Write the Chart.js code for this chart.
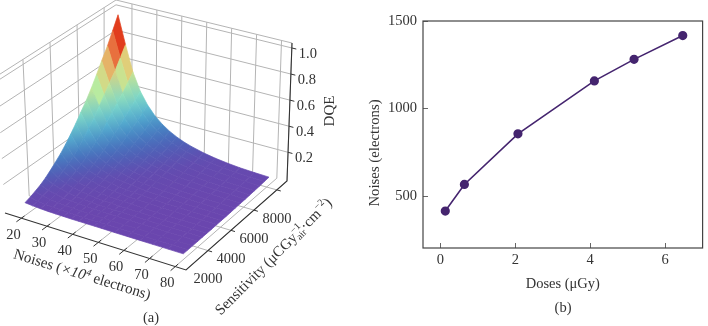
<!DOCTYPE html>
<html>
<head>
<meta charset="utf-8">
<style>
	html, body { margin: 0; padding: 0; background: #fff; width: 708px; height: 326px; overflow: hidden; }
	canvas { position: absolute; top: 0; }
	#surface_chart { left: 0; }
	#noise_chart { left: 354px; }
</style>
<script src="https://cdn.jsdelivr.net/npm/chart.js@4/dist/chart.umd.js"></script>
</head>
<body>
<canvas id="surface_chart" width="354" height="326"></canvas>
<canvas id="noise_chart" width="354" height="326"></canvas>
<script>
// panel (a): surface
const noises = [17, 20, 23, 26, 29, 32, 35, 38, 41, 44, 47, 52, 57, 62, 67, 73, 79];
const sensitivities = [1000, 1400, 1800, 2250, 2650, 3050, 3450, 3900, 4300, 4700, 5100, 5500, 5950, 6350, 6750, 7150, 7600, 8000, 8400];
// one row per sensitivity, one column per noise
const dqe = [
	[.017, .011, .007, .004, .003, .002, .001, .001, .001, .001, .001, .000, .000, .000, .000, .000, .000],
	[.030, .018, .012, .008, .006, .004, .003, .002, .001, .001, .001, .001, .000, .000, .000, .000, .000],
	[.047, .030, .019, .014, .009, .007, .005, .003, .003, .002, .002, .001, .001, .001, .000, .000, .000],
	[.068, .044, .030, .020, .014, .010, .007, .006, .004, .003, .003, .002, .001, .001, .001, .001, .000],
	[.093, .062, .042, .030, .021, .014, .011, .008, .006, .005, .004, .003, .002, .001, .001, .001, .001],
	[.124, .084, .057, .041, .030, .022, .016, .012, .009, .007, .006, .004, .003, .002, .001, .001, .001],
	[.158, .108, .075, .054, .040, .030, .022, .016, .014, .011, .009, .006, .004, .003, .002, .002, .001],
	[.198, .135, .095, .069, .052, .038, .030, .023, .017, .014, .011, .009, .006, .004, .003, .002, .002],
	[.242, .166, .118, .086, .065, .049, .038, .030, .024, .019, .015, .011, .007, .006, .004, .003, .003],
	[.291, .200, .144, .106, .080, .061, .046, .037, .030, .024, .019, .014, .010, .007, .006, .004, .003],
	[.344, .245, .178, .132, .100, .076, .060, .047, .037, .030, .024, .017, .013, .009, .006, .006, .004],
	[.404, .295, .213, .158, .120, .093, .072, .057, .045, .037, .030, .021, .015, .011, .009, .007, .006],
	[.469, .345, .250, .187, .143, .111, .087, .070, .056, .045, .037, .026, .019, .014, .011, .009, .007],
	[.537, .410, .300, .225, .170, .133, .105, .084, .066, .054, .044, .031, .024, .017, .014, .011, .008],
	[.613, .470, .345, .258, .198, .155, .120, .097, .078, .063, .052, .036, .028, .021, .017, .014, .010],
	[.694, .535, .390, .294, .225, .177, .140, .112, .090, .073, .060, .044, .033, .025, .019, .014, .012],
	[.781, .600, .440, .333, .255, .200, .158, .128, .103, .085, .070, .050, .038, .030, .023, .018, .014],
	[.874, .675, .495, .372, .287, .225, .180, .145, .118, .097, .080, .058, .044, .034, .026, .021, .017],
	[.971, .750, .550, .415, .322, .253, .203, .164, .134, .110, .092, .068, .051, .039, .030, .024, .020]
];
const noiseTicks = [20, 30, 40, 50, 60, 70, 80];
const sensitivityTicks = [2000, 4000, 6000, 8000];
const dqeTicks = [0.2, 0.4, 0.6, 0.8, 1.0];

// panel (b)
const doses = [0.13, 0.64, 2.07, 4.11, 5.17, 6.47];
const doseNoises = [415, 567, 856, 1158, 1281, 1417];
const doseTicks = [0, 2, 4, 6];
const doseNoiseTicks = [500, 1000, 1500];

const FONT = '"Liberation Serif", "Times New Roman", serif';
const GRID = "#b4b4b4";
const INK = "#333333";
const NOISE_RANGE = [13.6, 84.2];
const SENS_RANGE = [82, 8880];
const DQE_RANGE = [-0.02, 1.038];
// box corners of the 3d axes on the canvas: [floor, top], order u0v0, u1v0, u0v1, u1v1
const BOX = [
	[[5, 213], [-3, 76]],
	[[186, 270], [187, 122]],
	[[116, 134], [116, 0]],
	[[287, 181], [292, 43]]
];
const COLOR_STOPS = [
	[0, [106, 70, 174]],
	[0.05, [98, 76, 176]],
	[0.12, [76, 100, 184]],
	[0.2, [70, 135, 196]],
	[0.3, [90, 185, 210]],
	[0.4, [130, 222, 200]],
	[0.52, [190, 236, 155]],
	[0.62, [225, 205, 120]],
	[0.7, [236, 140, 80]],
	[0.78, [226, 70, 35]],
	[0.9, [222, 40, 16]],
	[1, [222, 40, 16]]
];

function lerp(a, b, t) {
	return a + (b - a) * t;
}

function project(noise, sens, value) {
	const u = (noise - NOISE_RANGE[0]) / (NOISE_RANGE[1] - NOISE_RANGE[0]);
	const v = (sens - SENS_RANGE[0]) / (SENS_RANGE[1] - SENS_RANGE[0]);
	const w = (value - DQE_RANGE[0]) / (DQE_RANGE[1] - DQE_RANGE[0]);
	const at = (k) => {
		const corner = (c) => lerp(BOX[c][0][k], BOX[c][1][k], w);
		return lerp(lerp(corner(0), corner(1), u), lerp(corner(2), corner(3), u), v);
	};
	return { x: at(0), y: at(1) };
}

function colorFor(value) {
	let i = 0;
	while (i < COLOR_STOPS.length - 2 && value > COLOR_STOPS[i + 1][0]) i++;
	const [a, ca] = COLOR_STOPS[i];
	const [b, cb] = COLOR_STOPS[i + 1];
	const t = Math.min(1, (value - a) / (b - a));
	const c = ca.map((x, k) => Math.round(lerp(x, cb[k], t)));
	return `rgb(${c[0]},${c[1]},${c[2]})`;
}

function lineSet(points, color, width) {
	return { data: points, showLine: true, borderColor: color, borderWidth: width, pointRadius: 0, fill: false, tension: 0 };
}

// low part of the surface is smooth, the facets only show near the peak
function quadPaint(ctx, cells) {
	const mean = cells.reduce((sum, q) => sum + q.z, 0) / cells.length;
	if (mean > 0.5) return colorFor(mean);
	const low = cells.reduce((a, q) => (q.z < a.z ? q : a));
	const high = cells.reduce((a, q) => (q.z > a.z ? q : a));
	if (high.z - low.z < 1e-4) return colorFor(mean);
	const g = ctx.createLinearGradient(low.p.x, low.p.y, high.p.x, high.p.y);
	g.addColorStop(0, colorFor(low.z));
	g.addColorStop(1, colorFor(high.z));
	return g;
}

function buildSurfaceSets(ctx) {
	const sets = [];
	const [n0, n1] = NOISE_RANGE;
	const [s0, s1] = SENS_RANGE;
	const [z0, z1] = DQE_RANGE;

	// walls and floor
	noiseTicks.forEach((n) => {
		sets.push(lineSet([project(n, s0, z0), project(n, s1, z0), project(n, s1, z1)], GRID, 1));
	});
	sensitivityTicks.forEach((s) => {
		sets.push(lineSet([project(n1, s, z0), project(n0, s, z0), project(n0, s, z1)], GRID, 1));
	});
	dqeTicks.forEach((z) => {
		sets.push(lineSet([project(n0, s0, z), project(n0, s1, z), project(n1, s1, z)], GRID, 1));
	});
	sets.push(lineSet([project(n0, s0, z1), project(n0, s1, z1), project(n1, s1, z1)], GRID, 1));
	sets.push(lineSet([project(n1, s0, z0), project(n1, s1, z0), project(n1, s1, z1)], GRID, 1));

	// surface, back to front
	for (let r = sensitivities.length - 2; r >= 0; r--) {
		for (let c = 0; c < noises.length - 1; c++) {
			const cell = (i, j) => ({ z: dqe[i][j], p: project(noises[j], sensitivities[i], dqe[i][j]) });
			const cells = [cell(r, c), cell(r, c + 1), cell(r + 1, c + 1), cell(r + 1, c)];
			const paint = quadPaint(ctx, cells);
			sets.push({
				data: [cells[0].p, cells[1].p, cells[2].p, cells[3].p, cells[0].p],
				showLine: true,
				fill: "shape",
				backgroundColor: paint,
				borderColor: paint,
				borderWidth: 0.7,
				pointRadius: 0,
				tension: 0
			});
		}
	}

	// axis lines and ticks
	sets.push(lineSet([project(n0, s0, z0), project(n1, s0, z0), project(n1, s1, z0), project(n1, s1, z1)], INK, 1.1));
	noiseTicks.forEach((n) => {
		sets.push(lineSet([project(n, s0 - 400, z0), project(n, s0 + 250, z0)], INK, 1));
	});
	sensitivityTicks.forEach((s) => {
		sets.push(lineSet([project(n1, s, z0), project(n1 + 1.6, s, z0)], INK, 1));
	});
	dqeTicks.forEach((z) => {
		sets.push(lineSet([project(n1, s1, z), project(n1 + 1.8, s1, z)], INK, 1));
	});
	// chart.js paints the first dataset last
	return sets.reverse();
}

// text runs so that italics, sub and superscripts stay real text
function drawRuns(ctx, runs, cx, cy, angle, size) {
	ctx.save();
	ctx.translate(cx, cy);
	ctx.rotate(angle * Math.PI / 180);
	ctx.textBaseline = "middle";
	ctx.textAlign = "left";
	ctx.fillStyle = INK;
	const fontOf = (r) => `${r.italic ? "italic " : ""}${size * (r.scale || 1)}px ${FONT}`;
	let total = 0;
	runs.forEach((r) => {
		ctx.font = fontOf(r);
		if (!r.stack) total += ctx.measureText(r.t).width;
	});
	let x = -total / 2;
	runs.forEach((r) => {
		ctx.font = fontOf(r);
		ctx.fillText(r.t, x, r.dy || 0);
		if (!r.stack) x += ctx.measureText(r.t).width;
	});
	ctx.restore();
}

const surfaceText = {
	id: "surfaceText",
	afterDatasetsDraw(chart) {
		const ctx = chart.ctx;
		const [, n1] = NOISE_RANGE;
		const [s0, s1] = SENS_RANGE;
		const [z0] = DQE_RANGE;
		const size = 14.5;
		noiseTicks.forEach((n) => {
			const p = project(n, s0, z0);
			drawRuns(ctx, [{ t: String(n) }], p.x - 8, p.y + 17, 0, size);
		});
		sensitivityTicks.forEach((s) => {
			const p = project(n1, s, z0);
			drawRuns(ctx, [{ t: String(s) }], p.x, p.y + 29, 0, size);
		});
		dqeTicks.forEach((z) => {
			const p = project(n1, s1, z);
			drawRuns(ctx, [{ t: z.toFixed(1) }], p.x + 16, p.y + 6, 0, size);
		});
		drawRuns(ctx, [
			{ t: "Noises (" },
			{ t: "×10", italic: true },
			{ t: "4", italic: true, scale: 0.65, dy: -4 },
			{ t: " electrons)" }
		], 82, 275, 17, 15);
		drawRuns(ctx, [
			{ t: "Sensitivity (μCGy" },
			{ t: "−1", scale: 0.65, dy: -5, stack: true },
			{ t: "air", scale: 0.65, dy: 4 },
			{ t: "·cm" },
			{ t: "−2", scale: 0.65, dy: -5 },
			{ t: ")" }
		], 274, 257, -45, 15);
		drawRuns(ctx, [{ t: "DQE" }], 330, 111, -90, 15);
		drawRuns(ctx, [{ t: "(a)" }], 151, 318, 0, 14.5);
	}
};

const surfaceCanvas = document.getElementById("surface_chart");
new Chart(surfaceCanvas, {
	type: "scatter",
	data: { datasets: buildSurfaceSets(surfaceCanvas.getContext("2d")) },
	plugins: [surfaceText],
	options: {
		responsive: false,
		animation: false,
		events: [],
		layout: { padding: 0 },
		plugins: { legend: { display: false }, tooltip: { enabled: false } },
		scales: {
			x: { type: "linear", min: 0, max: 354, display: false },
			y: { type: "linear", min: 0, max: 326, reverse: true, display: false }
		}
	}
});

const noiseFrame = {
	id: "noiseFrame",
	beforeDatasetsDraw(chart) {
		const { ctx, chartArea: a } = chart;
		ctx.save();
		ctx.strokeStyle = "#444444";
		ctx.lineWidth = 1.2;
		ctx.strokeRect(a.left, a.top, a.right - a.left, a.bottom - a.top);
		ctx.restore();
	},
	afterDatasetsDraw(chart) {
		drawRuns(chart.ctx, [{ t: "Noises (electrons)" }], 21, 153, -90, 14.8);
		drawRuns(chart.ctx, [{ t: "(b)" }], 209, 308, 0, 14.5);
	}
};

new Chart(document.getElementById("noise_chart"), {
	type: "line",
	data: {
		datasets: [{
			data: doses.map((d, i) => ({ x: d, y: doseNoises[i] })),
			borderColor: "#45256f",
			backgroundColor: "#45256f",
			borderWidth: 1.6,
			pointRadius: 3.8,
			pointHoverRadius: 3.8,
			tension: 0
		}]
	},
	plugins: [noiseFrame],
	options: {
		responsive: false,
		animation: false,
		events: [],
		layout: { padding: { left: 12, right: 1, top: 21, bottom: 33 } },
		plugins: { legend: { display: false }, tooltip: { enabled: false } },
		scales: {
			x: {
				type: "linear",
				min: -0.465,
				max: 7,
				afterBuildTicks: (s) => { s.ticks = doseTicks.map((v) => ({ value: v })); },
				afterFit: (s) => { s.height = 45; },
				grid: { drawOnChartArea: false, tickLength: -5, tickColor: "#666666", tickWidth: 1 },
				border: { display: false },
				ticks: { color: INK, padding: 8, maxRotation: 0, callback: (v) => String(v), font: { family: FONT, size: 14.5 } },
				title: { display: true, text: "Doses (μGy)", color: INK, padding: 0, font: { family: FONT, size: 14.5 } }
			},
			y: {
				type: "linear",
				min: 204,
				max: 1500,
				afterBuildTicks: (s) => { s.ticks = doseNoiseTicks.map((v) => ({ value: v })); },
				afterFit: (s) => { s.width = 57; },
				grid: { drawOnChartArea: false, tickLength: -5, tickColor: "#666666", tickWidth: 1 },
				border: { display: false },
				ticks: { color: INK, padding: 11, callback: (v) => String(v), font: { family: FONT, size: 14.5 } }
			}
		}
	}
});
</script>
</body>
</html>
